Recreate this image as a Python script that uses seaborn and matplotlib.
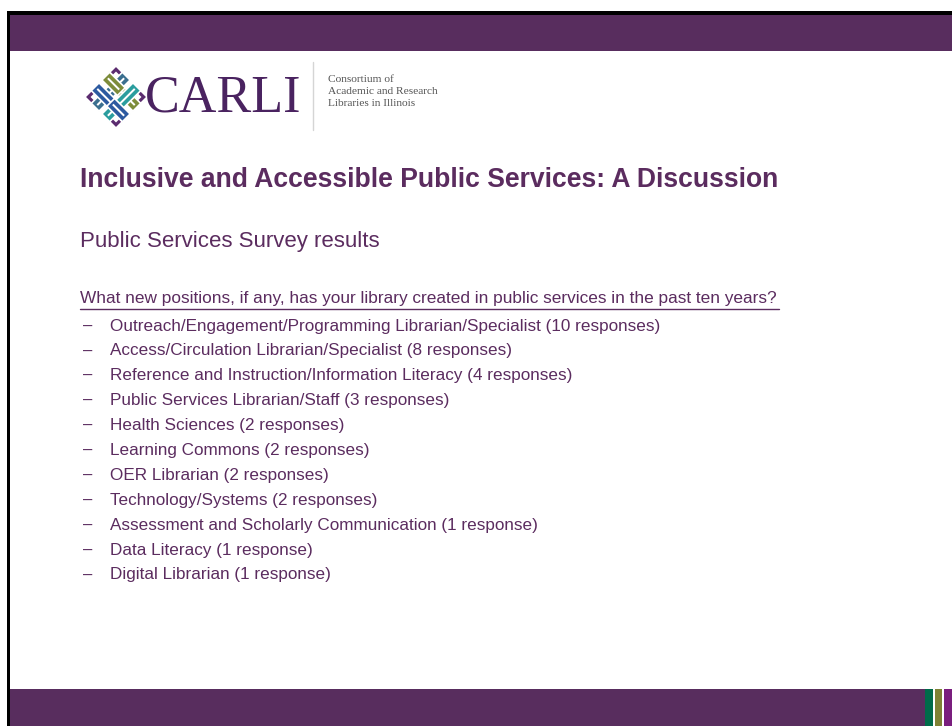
import numpy as np
import matplotlib
matplotlib.use("Agg")
import matplotlib.pyplot as plt
import matplotlib.patches as mpatches
import seaborn as sns

# slide text
baslik = "Inclusive and Accessible Public Services: A Discussion"
alt_baslik = "Public Services Survey results"
soru = "What new positions, if any, has your library created in public services in the past ten years?"

# positions and number of responses
pozisyonlar = [
    "Outreach/Engagement/Programming Librarian/Specialist",
    "Access/Circulation Librarian/Specialist",
    "Reference and Instruction/Information Literacy",
    "Public Services Librarian/Staff",
    "Health Sciences",
    "Learning Commons",
    "OER Librarian",
    "Technology/Systems",
    "Assessment and Scholarly Communication",
    "Data Literacy",
    "Digital Librarian",
]
yanit_sayisi = [10, 8, 4, 3, 2, 2, 2, 2, 1, 1, 1]

logo_satirlari = ["Consortium of", "Academic and Research", "Libraries in Illinois"]

mor = "#582d5e"
yazi_mor = "#5b2c5f"

sns.set_theme(style="white")
plt.rcParams["font.family"] = ["Liberation Sans", "DejaVu Sans"]

fig = plt.figure(figsize=(9.52, 7.26), dpi=100)
ax = fig.add_axes([0, 0, 1, 1])
ax.set_xlim(0, 952)
ax.set_ylim(726, 0)
ax.axis("off")

# frame and bars
ax.add_patch(mpatches.Rectangle((7, 11), 952, 3.5, color="black", lw=0))
ax.add_patch(mpatches.Rectangle((7, 11), 3, 726, color="black", lw=0))
ax.add_patch(mpatches.Rectangle((10, 14.5), 942, 36, color=mor, lw=0))
ax.add_patch(mpatches.Rectangle((10, 689), 915, 37, color=mor, lw=0))
ax.add_patch(mpatches.Rectangle((925, 689), 8, 37, color="#006b4a", lw=0))
ax.add_patch(mpatches.Rectangle((934.5, 689), 7.5, 37, color="#7f8235", lw=0))
ax.add_patch(mpatches.Rectangle((943.5, 689), 8.5, 37, color="#7a1e7e", lw=0))

# logo knot
cx, cy = 116, 97
aci = np.deg2rad(45)
R = np.array([[np.cos(aci), -np.sin(aci)], [np.sin(aci), np.cos(aci)]])

def cokgen(noktalar, renk, kenar="white", kalin=1.2):
    p = np.array(noktalar) @ R.T + [cx, cy]
    ax.add_patch(mpatches.Polygon(p, closed=True, facecolor=renk, edgecolor=kenar, lw=kalin))

def bant(u0, u1, v0, v1, renk):
    cokgen([(u0, v0), (u1, v0), (u1, v1), (u0, v1)], renk)
    # white stripe inside the band
    if (u1 - u0) > (v1 - v0):
        m = (v0 + v1) / 2
        cokgen([(u0 + 3, m - 1), (u1 - 3, m - 1), (u1 - 3, m + 1), (u0 + 3, m + 1)], "white", kenar="none")
    else:
        m = (u0 + u1) / 2
        cokgen([(m - 1, v0 + 3), (m + 1, v0 + 3), (m + 1, v1 - 3), (m - 1, v1 - 3)], "white", kenar="none")

# corner hooks
for (u, v) in [(-15, -15), (15, -15), (-15, 15), (15, 15)]:
    cokgen([(u - 7, v - 7), (u + 7, v - 7), (u + 7, v + 7), (u - 7, v + 7)], "#5b2c6f")
    cokgen([(u - 3, v - 3), (u + 3, v - 3), (u + 3, v + 3), (u - 3, v + 3)], "white", kenar="none")
bant(-22, 22, -13, -2, "#7d8c3a")
bant(-13, -2, -22, 22, "#3b6f8f")
bant(-22, 22, 2, 13, "#2c5aa0")
bant(2, 13, -22, 22, "#2a9d9e")
bant(-22, 0, -13, -2, "#7d8c3a")
bant(0, 22, 2, 13, "#2c5aa0")

ax.text(145, 98, "CARLI", family=["Liberation Serif", "DejaVu Serif"], fontsize=37.5,
        color="#4a2360", va="center", ha="left")
ax.plot([313, 313], [62, 130], color="#d5d5d5", lw=1)
for i, s in enumerate(logo_satirlari):
    ax.text(328, 80 + i * 12, s, family=["Liberation Serif", "DejaVu Serif"], fontsize=8.2,
            color="#555555", va="center", ha="left")

# titles
ax.text(80, 180, baslik, fontsize=19.1, fontweight="bold", color=yazi_mor, va="center")
ax.text(80, 242, alt_baslik, fontsize=16, color=yazi_mor, va="center")
ax.text(80, 299, soru, fontsize=12.45, color=yazi_mor, va="center")
ax.plot([80, 779], [308.5, 308.5], color=yazi_mor, lw=1)

for i, (ad, n) in enumerate(zip(pozisyonlar, yanit_sayisi)):
    y = 326 + i * 24.9
    ek = "responses" if n > 1 else "response"
    ax.text(83, y, "–", fontsize=12, color=yazi_mor, va="center")
    ax.text(110, y, f"{ad} ({n} {ek})", fontsize=12.3, color=yazi_mor, va="center")

fig.savefig("out.png", dpi=100)
